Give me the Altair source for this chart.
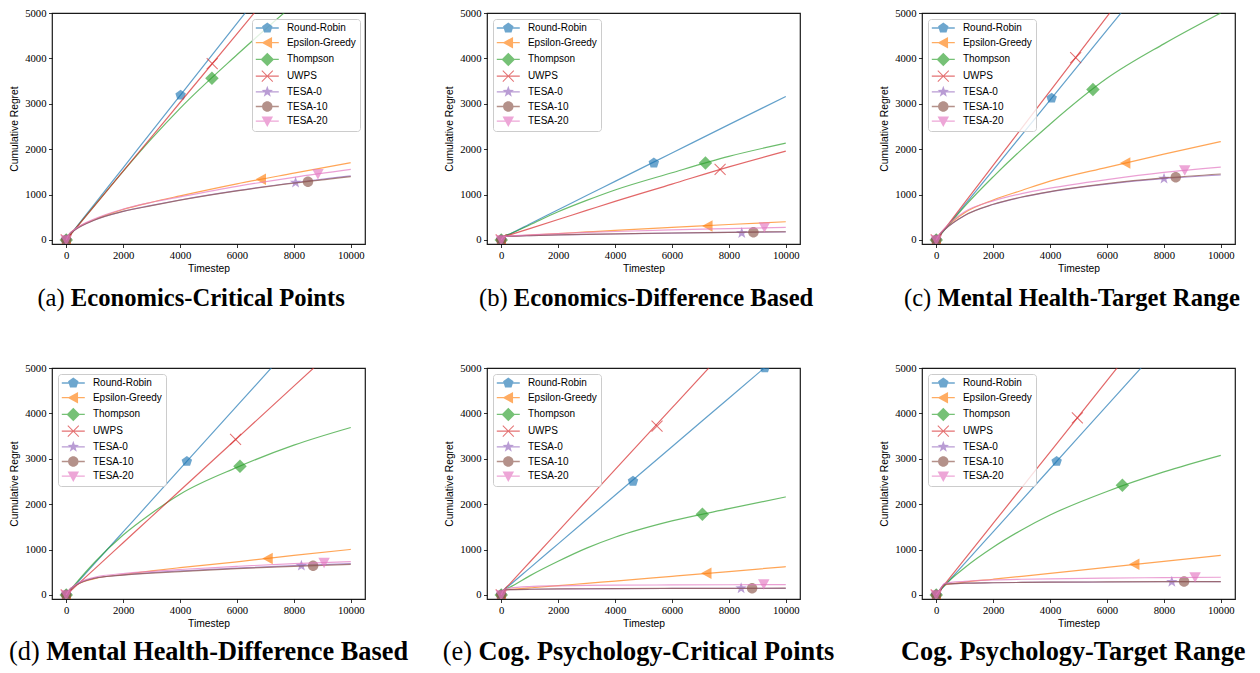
import altair as alt
import pandas as pd

NAMES = ["Round-Robin", "Epsilon-Greedy", "Thompson", "UWPS", "TESA-0", "TESA-10", "TESA-20"]
COLORS = ["#1f77b4", "#ff7f0e", "#2ca02c", "#d62728", "#9467bd", "#8c564b", "#e377c2"]
XS = [0, 100, 300, 1000, 2000, 3000, 4000, 6000, 8000, 10000]
X_TICKS = [0, 2000, 4000, 6000, 8000, 10000]
Y_TICKS = [0, 1000, 2000, 3000, 4000, 5000]

# (a) Economics-Critical Points
A_Y = [
    [0, 80, 240, 795, 1590, 2385, 3180, 4770, 6360, 7950],
    [0, 120, 230, 450, 670, 830, 970, 1235, 1470, 1700],
    [0, 78, 230, 760, 1510, 2230, 2900, 4080, 5190, 6250],
    [0, 76, 227, 757, 1514, 2271, 3028, 4542, 6056, 7570],
    [0, 120, 220, 440, 630, 760, 880, 1085, 1260, 1410],
    [0, 120, 220, 440, 628, 755, 875, 1080, 1250, 1395],
    [0, 125, 235, 465, 680, 830, 950, 1180, 1380, 1554],
]
A_MX = [4020, 6854, 5120, 5130, 8060, 8495, 8846]
A_MY = [3190, 1335, 3562, 3883, 1263, 1280, 1460]

# (b) Economics-Difference Based
B_Y = [
    [0, 75, 130, 350, 665, 980, 1290, 1915, 2540, 3161],
    [0, 75, 82, 105, 140, 175, 210, 275, 340, 400],
    [0, 75, 130, 330, 620, 870, 1100, 1480, 1840, 2132],
    [0, 70, 110, 250, 450, 650, 850, 1230, 1610, 1957],
    [0, 75, 80, 95, 110, 120, 130, 150, 165, 175],
    [0, 75, 80, 95, 110, 122, 133, 152, 168, 180],
    [0, 75, 85, 110, 140, 165, 185, 220, 250, 278],
]
B_MX = [5363, 7260, 7176, 7692, 8453, 8863, 9250]
B_MY = [1694, 307, 1694, 1554, 150, 169, 285]

# (c) Mental Health-Target Range
C_Y = [
    [0, 77, 231, 770, 1540, 2310, 3080, 4620, 6160, 7700],
    [0, 110, 250, 600, 880, 1090, 1295, 1600, 1890, 2167],
    [0, 75, 225, 740, 1390, 1990, 2550, 3560, 4320, 5000],
    [0, 82, 246, 820, 1640, 2460, 3280, 4920, 6560, 8200],
    [0, 100, 230, 540, 780, 940, 1060, 1230, 1350, 1430],
    [0, 100, 230, 540, 785, 945, 1065, 1240, 1365, 1453],
    [0, 110, 260, 620, 860, 1020, 1140, 1330, 1490, 1606],
]
C_MX = [4056, 6657, 5508, 4900, 8006, 8418, 8734]
C_MY = [3124, 1694, 3314, 4015, 1350, 1383, 1540]

# (d) Mental Health-Difference Based
D_Y = [
    [0, 69, 208, 694, 1388, 2082, 2776, 4164, 5552, 6940],
    [0, 100, 200, 360, 450, 530, 600, 730, 870, 1003],
    [0, 75, 225, 720, 1320, 1800, 2220, 2810, 3300, 3689],
    [0, 57, 172, 575, 1150, 1725, 2300, 3450, 4600, 5750],
    [0, 100, 200, 370, 440, 490, 530, 590, 645, 690],
    [0, 100, 200, 370, 435, 480, 515, 580, 630, 674],
    [0, 105, 215, 390, 470, 520, 560, 630, 690, 732],
]
D_MX = [4239, 7091, 6106, 5951, 8264, 8676, 9062]
D_MY = [2942, 805, 2833, 3425, 643, 645, 712]

# (e) Cog. Psychology-Critical Points
E_Y = [
    [0, 110, 215, 590, 1125, 1660, 2195, 3265, 4335, 5405],
    [0, 110, 120, 155, 205, 255, 305, 410, 515, 622],
    [0, 110, 170, 420, 740, 1030, 1270, 1630, 1900, 2159],
    [0, 110, 245, 720, 1400, 2080, 2760, 4120, 5480, 6840],
    [0, 110, 115, 125, 130, 135, 138, 142, 145, 146],
    [0, 110, 115, 125, 131, 136, 139, 143, 146, 148],
    [0, 120, 150, 185, 200, 210, 215, 220, 224, 227],
]
E_MX = [4631, 7222, 7070, 5476, 8431, 8817, 9226, 9262]
E_MY = [2503, 476, 1779, 3718, 146, 147, 240, 5003]
E_MS = NAMES + ["Round-Robin"]

# (f) Cog. Psychology-Target Range
F_Y = [
    [0, 70, 208, 695, 1390, 2085, 2780, 4170, 5560, 6950],
    [0, 80, 220, 280, 345, 410, 475, 605, 740, 871],
    [0, 70, 215, 600, 1050, 1430, 1760, 2280, 2710, 3074],
    [0, 79, 236, 787, 1574, 2361, 3148, 4722, 6296, 7870],
    [0, 85, 240, 258, 268, 275, 280, 285, 290, 293],
    [0, 85, 240, 258, 268, 275, 280, 286, 291, 295],
    [0, 85, 255, 300, 330, 345, 355, 370, 382, 389],
]
F_MX = [4232, 6975, 6542, 4960, 8280, 8710, 9097]
F_MY = [2942, 674, 2415, 3902, 288, 293, 395]

PANEL_LABELS = ["(a)", "(b)", "(c)", "(d)", "(e)", ""]
PANEL_TITLES = [
    "Economics-Critical Points",
    "Economics-Difference Based",
    "Mental Health-Target Range",
    "Mental Health-Difference Based",
    "Cog. Psychology-Critical Points",
    "Cog. Psychology-Target Range",
]

# marker shapes (unit space), matplotlib-like: pentagon, <, D, x, *, o, v
PATHS = [
    "M0,-1.1L1.046,-0.34L0.647,0.89L-0.647,0.89L-1.046,-0.34Z",
    "M-1.15,0L0.95,-1.15L0.95,1.15Z",
    "M0,-1.35L1.35,0L0,1.35L-1.35,0Z",
    "M-1.029,-1.171L1.171,1.029L1.029,1.171L-1.171,-1.029ZM-1.029,1.171L-1.171,1.029L1.029,-1.171L1.171,-1.029Z",
    "M0,-1.2L0.282,-0.388L1.141,-0.371L0.456,0.148L0.705,0.971L0,0.48L-0.705,0.971L-0.456,0.148L-1.141,-0.371L-0.282,-0.388Z",
    "M1.05,0A1.05,1.05,0,1,1,-1.05,0A1.05,1.05,0,1,1,1.05,0Z",
    "M-1.15,-0.95L1.15,-0.95L0,1.15Z",
]
LINE_SEG = "M-2.3,-0.13H2.3V0.13H-2.3Z"
LEGEND_PATHS = [LINE_SEG + p for p in PATHS]

W, H = 313, 231
FONT_SERIF = "Liberation Serif"
FONT_SANS = "Liberation Sans"


def panel(ys, mx, my, ms, label, title, orient, split, cap_y, cap_size):
    rows = []
    for name, vals in zip(NAMES, ys):
        for x, y in zip(XS, vals):
            rows.append({"series": name, "x": x, "y": y})
    df = pd.DataFrame(rows)
    mrows = [{"series": s, "x": 0, "y": 0} for s in NAMES]
    mrows += [{"series": s, "x": x, "y": y} for s, x, y in zip(ms, mx, my)]
    mdf = pd.DataFrame(mrows)

    X = alt.X("x:Q", scale=alt.Scale(domain=[-500, 10500], nice=False, zero=False),
              axis=alt.Axis(values=X_TICKS, format="d", title="Timestep", titlePadding=3.5))
    Y = alt.Y("y:Q", scale=alt.Scale(domain=[-90, 5000], nice=False, zero=False),
              axis=alt.Axis(values=Y_TICKS, format="d", title="Cumulative Regret", titlePadding=5.5))

    layers = []
    for i, name in enumerate(NAMES):
        layers.append(
            alt.Chart(df).transform_filter(alt.datum.series == name).mark_line(
                clip=True, strokeWidth=1.2, opacity=0.7, interpolate="monotone", color=COLORS[i]
            ).encode(x=X, y=Y)
        )
        layers.append(
            alt.Chart(mdf).transform_filter(alt.datum.series == name).mark_point(
                shape=PATHS[i], filled=True, size=100, opacity=0.65, color=COLORS[i],
                strokeWidth=0, clip=True,
            ).encode(x=X, y=Y)
        )
    leg = alt.Legend(
        title=None, orient=orient, offset=5.5, padding=4, rowPadding=3.7,
        symbolSize=100, symbolOffset=6.3, labelOffset=14.6, symbolOpacity=0.65,
        symbolStrokeWidth=0, labelFont=FONT_SANS, labelFontSize=10, labelColor="black",
        strokeColor="#cccccc", fillColor="rgba(255,255,255,0.8)", cornerRadius=3,
    )
    # legend carrier: origin points pushed far outside the y domain and clipped away
    layers.append(
        alt.Chart(mdf).transform_filter(alt.datum.x == 0).transform_calculate(
            y="-1000000"
        ).mark_point(filled=True, opacity=0.65, clip=True).encode(
            x=X, y=Y,
            fill=alt.Fill("series:N", scale=alt.Scale(domain=NAMES, range=COLORS), legend=leg),
            shape=alt.Shape("series:N", scale=alt.Scale(domain=NAMES, range=LEGEND_PATHS), legend=leg),
        )
    )
    one = pd.DataFrame({"k": [0]})
    if label:
        layers.append(alt.Chart(one).mark_text(
            text=label, font=FONT_SERIF, fontSize=cap_size, align="right", baseline="alphabetic", color="black"
        ).encode(x=alt.value(split), y=alt.value(cap_y)))
    layers.append(alt.Chart(one).mark_text(
        text=title, font=FONT_SERIF, fontSize=cap_size, fontWeight="bold", align="left",
        baseline="alphabetic", color="black"
    ).encode(x=alt.value(split + 0.25 * cap_size if label else split), y=alt.value(cap_y)))

    return alt.layer(*layers).properties(width=W, height=H)


TOP_CAP = H + 62
BOT_CAP = H + 61
TOP_SIZE = 24.6
BOT_SIZE = 26.3
panels = [
    panel(A_Y, A_MX, A_MY, NAMES, PANEL_LABELS[0], PANEL_TITLES[0], "top-right", 12.7, TOP_CAP, TOP_SIZE),
    panel(B_Y, B_MX, B_MY, NAMES, PANEL_LABELS[1], PANEL_TITLES[1], "top-left", 20.7, TOP_CAP, TOP_SIZE),
    panel(C_Y, C_MX, C_MY, NAMES, PANEL_LABELS[2], PANEL_TITLES[2], "top-left", 9.3, TOP_CAP, TOP_SIZE),
    panel(D_Y, D_MX, D_MY, NAMES, PANEL_LABELS[3], PANEL_TITLES[3], "top-left", -12.3, BOT_CAP, BOT_SIZE),
    panel(E_Y, E_MX, E_MY, E_MS, PANEL_LABELS[4], PANEL_TITLES[4], "top-left", -15.1, BOT_CAP, BOT_SIZE),
    panel(F_Y, F_MX, F_MY, NAMES, PANEL_LABELS[5], PANEL_TITLES[5], "top-left", -21, BOT_CAP, BOT_SIZE),
]

chart = alt.concat(
    *panels, columns=3, spacing={"row": 124, "column": 122}, bounds="flush"
).resolve_scale(
    fill="independent", shape="independent", x="independent", y="independent"
).resolve_legend(
    fill="independent", shape="independent"
).properties(
    padding={"left": 0, "top": -2, "right": 0, "bottom": 0}
).configure_view(
    stroke="#1a1a1a", strokeWidth=1.2
).configure_axis(
    labelFont=FONT_SERIF, labelFontSize=10.7, labelColor="black", labelPadding=2.5,
    titleFont=FONT_SANS, titleFontSize=10.3, titleFontWeight="normal", titleColor="black",
    tickColor="black", tickSize=3.5, tickWidth=0.8, domain=False, grid=False,
)

chart.save("out.html", embed_options={"renderer": "svg", "actions": False})
